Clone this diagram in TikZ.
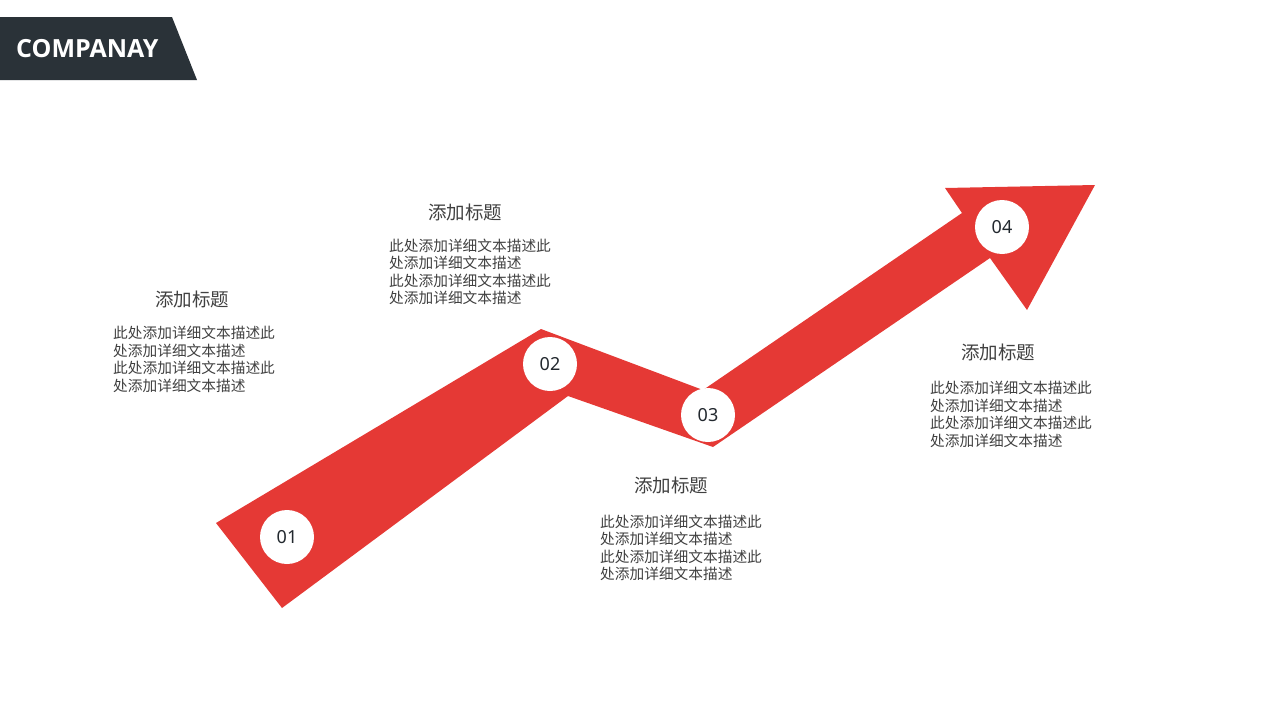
\documentclass[tikz,border=0pt]{standalone}
\usepackage{fontspec}
\setmainfont{Noto Sans}
\newfontfamily\cjk{Noto Sans CJK SC}
\newfontfamily\hdrfont{Open Sans}
\definecolor{arrowred}{RGB}{229,57,53}
\definecolor{hdrdark}{RGB}{42,50,56}
\definecolor{txtgray}{RGB}{64,64,64}
\definecolor{numdark}{RGB}{34,40,46}
\tikzset{
  numcircle/.style={circle, fill=white, minimum size=54pt, inner sep=0pt, text=numdark,
    font=\fontsize{18}{18}\selectfont},
  titletext/.style={inner sep=0pt, text=txtgray, font=\cjk\fontsize{18.5}{18.5}\selectfont},
  bodytext/.style={inner sep=0pt, anchor=west, align=left, text=txtgray,
    font=\cjk\fontsize{14.7}{17.5}\selectfont},
}
\begin{document}
\begin{tikzpicture}[x=1pt,y=-1pt]
\useasboundingbox (0,0) rectangle (1280,720);
% header
\fill[hdrdark] (0,17) -- (172,17) -- (197,80) -- (0,80) -- cycle;
\node[anchor=west, text=white, inner sep=0pt, font=\hdrfont\bfseries\fontsize{25}{25}\selectfont] (hdr) at (16,49) {COMPANAY};
% arrow
\fill[arrowred] (216,523) -- (541,329) -- (703,390) -- (962,213) -- (945,188) -- (1095,185)
  -- (1027,310) -- (990,258) -- (713,447) -- (568,396) -- (282,608) -- cycle;
% circles
\node[numcircle] (c1) at (287,537) {01};
\node[numcircle] (c2) at (550,364) {02};
\node[numcircle] (c3) at (708,415) {03};
\node[numcircle] (c4) at (1002,227) {04};
% texts
\node[titletext] (t1) at (192,299) {添加标题};
\node[bodytext] (b1) at (113,359.5) {此处添加详细文本描述此\\处添加详细文本描述\\此处添加详细文本描述此\\处添加详细文本描述};
\node[titletext] (t2) at (465,212) {添加标题};
\node[bodytext] (b2) at (389,272) {此处添加详细文本描述此\\处添加详细文本描述\\此处添加详细文本描述此\\处添加详细文本描述};
\node[titletext] (t3) at (671,485) {添加标题};
\node[bodytext] (b3) at (600,548) {此处添加详细文本描述此\\处添加详细文本描述\\此处添加详细文本描述此\\处添加详细文本描述};
\node[titletext] (t4) at (998,352) {添加标题};
\node[bodytext] (b4) at (930,414.5) {此处添加详细文本描述此\\处添加详细文本描述\\此处添加详细文本描述此\\处添加详细文本描述};
\end{tikzpicture}
\end{document}
